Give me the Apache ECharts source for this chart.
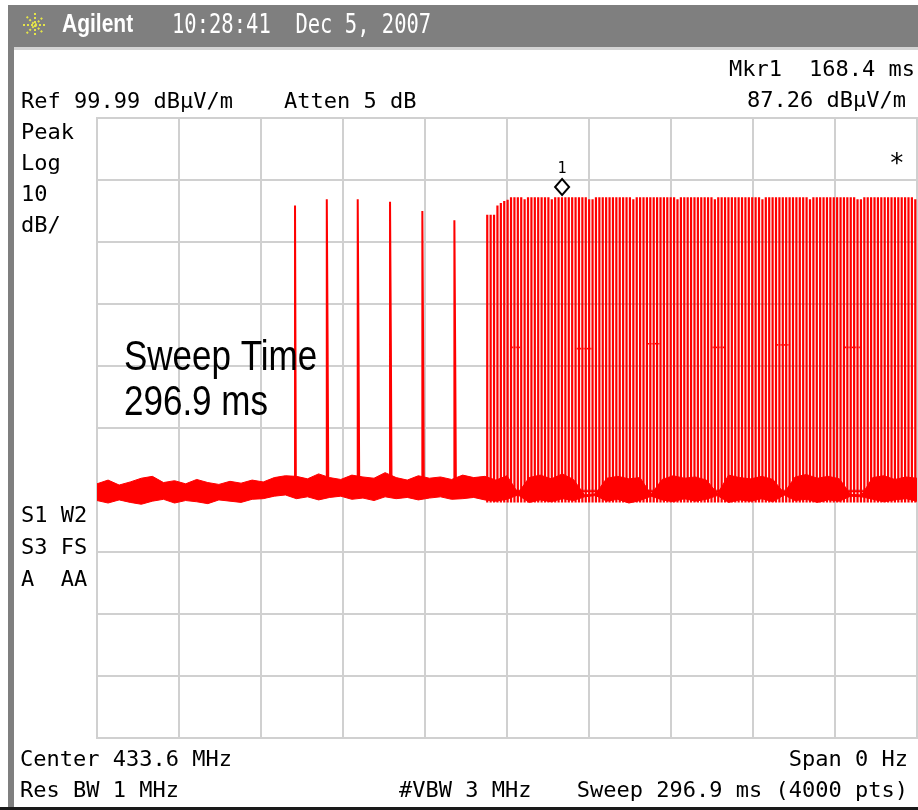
<!DOCTYPE html>
<html>
<head>
<meta charset="utf-8">
<script src="https://cdn.jsdelivr.net/npm/echarts@6/dist/echarts.min.js"></script>
<style>
  html, body { margin: 0; background: #fff; }
  #chart { width: 918px; height: 810px; }
</style>
</head>
<body>
<div id="chart"></div>
<script>
// sweep / scale
const sweepMs = 296.9;
const refLevel = 100;
const dbPerDiv = 10;

// six single bursts before the long train (ms, dB)
const burstTimes = [71.7, 83.2, 94.4, 106.1, 117.8, 129.4];
const burstPeaks = [85.9, 86.9, 86.9, 86.5, 85.0, 83.5];
const burstTails = [40.0, 63.5, 62.9, 63.5, 61.5, 61.0];
const burstFloor = 39.8;

// long pulse train: one char per pulse slot
const trainStart = 140.9;
const trainSlot = 1.23;
const trainPattern = 'aaabcde' +
  'HHHHhHHHHH' + 'HHhHHHHHHH' + 'HHHhhHHHHH' + 'HHHHHHhHHH' +
  'HHHHHHHHHh' + 'HHHHHHHHHH' + 'hHHHHHHHHH' + 'HHHHhHHHHH' +
  'HHHHHHHHhH' + 'HHHHHHHHHH' + 'HHhhHHHHHH' + 'HHHHHHHHHh';
const trainLevels = { a: 84.4, b: 85.9, c: 86.3, d: 86.6, e: 86.8, h: 86.9, H: 87.2 };
const trainFloor = 38.0;
// slot ranges where the gaps only fall to ~63 dB
const trainDips = [[7, 9], [26, 30], [47, 50], [66, 69], [85, 88], [105, 109]];
const dipLevels = [63.0, 62.8, 63.6, 63.0, 63.4, 63.0];

// noise floor envelope, evenly spaced over the sweep
const noiseHi = [41.0, 41.6, 40.8, 41.3, 41.9, 42.2, 41.2, 41.5, 41.0, 41.7, 41.2, 40.9, 41.4, 41.1, 41.6, 41.3,
  42.0, 42.3,
  42.2, 41.8, 42.6, 42.0, 41.7, 42.4, 42.1, 41.9, 42.8, 42.0, 41.6, 42.3, 41.9, 42.1, 41.7, 42.4, 42.0, 42.2,
  41.6, 42.3, 39.5, 42.0, 42.4, 41.8, 42.6, 41.7, 39.2, 39.4, 41.9, 42.2, 41.8, 42.0, 39.3, 41.7, 42.3, 41.9,
  42.1, 41.6, 39.4, 42.4, 42.0, 41.8, 42.2, 41.7, 39.5, 42.1, 42.5, 41.9, 42.2, 41.8, 39.3, 39.2, 42.0, 42.3,
  41.7, 42.1, 41.9];
const noiseLo = [38.3, 37.9, 38.4, 38.0, 37.7, 38.2, 38.5, 37.9, 38.3, 38.1, 37.8, 38.4, 38.2, 38.0, 38.5, 38.6,
  39.0, 39.2,
  38.6, 38.9, 38.4, 38.8, 39.0, 38.5, 38.7, 38.3, 38.9, 38.6, 38.8, 38.4, 38.7, 38.9, 38.5, 38.6, 38.8, 38.4,
  38.2, 38.5, 39.2, 38.0, 38.4, 38.1, 38.6, 38.3, 38.9, 39.1, 38.2, 38.5, 37.9, 38.3, 39.0, 38.4, 38.1, 38.6,
  38.2, 38.5, 39.1, 38.0, 38.4, 38.2, 38.6, 38.1, 39.2, 38.3, 38.5, 38.0, 38.4, 38.2, 39.0, 38.9, 38.5, 38.1,
  38.4, 38.6, 38.2];

const marker = [168.4, 87.26];

// ---- build series data ----
let trace = [[0, burstFloor]];
burstTimes.forEach((t, i) => {
  trace.push([t, burstFloor], [t, burstPeaks[i]], [t + 0.3, burstPeaks[i]],
    [t + 0.3, burstTails[i]], [t + 0.55, burstTails[i]], [t + 0.55, burstFloor]);
});
trace.push([sweepMs, burstFloor]);

// train: [time, peak, gap level]
const pulseW = 0.8;
const train = [];
for (let i = 0; i < trainPattern.length; i++) {
  let gap = trainFloor;
  trainDips.forEach((d, k) => { if (i >= d[0] && i <= d[1]) gap = dipLevels[k]; });
  train.push([trainStart + i * trainSlot, trainLevels[trainPattern[i]], gap]);
}

const noiseStep = sweepMs / (noiseHi.length - 1);
const noisePts = noiseHi.map((v, i) => [i * noiseStep, v]);

// ---- chrome ----
const mono = '"DejaVu Sans Mono", monospace';
const sans = '"Liberation Sans", Arial, sans-serif';
// y is the text baseline
function txt(s, x, y, o) {
  o = o || {};
  const sy = o.sy || 1;
  const off = o.off !== undefined ? o.off : 18;
  return {
    type: 'text', x: x, y: y - off * sy, z: 100,
    scaleY: sy,
    style: {
      text: s, x: 0, y: 0,
      font: o.font || ('22px ' + mono),
      fill: o.fill || '#000',
      textAlign: o.align || 'left', align: o.align || 'left',
      textVerticalAlign: 'top', verticalAlign: 'top'
    }
  };
}
function star(cx, cy, r) {
  const out = [];
  [[r, 0], [0, r], [r * 0.7, r * 0.7], [r * 0.7, -r * 0.7]].forEach(d => {
    out.push({
      type: 'line', z: 100,
      shape: { x1: cx - d[0], y1: cy - d[1], x2: cx + d[0], y2: cy + d[1] },
      style: { stroke: '#e4e44a', lineWidth: 2, lineDash: [2, 2] }
    });
  });
  return out;
}

const chrome = [
  { type: 'rect', z: 90, shape: { x: 8, y: 5, width: 910, height: 42 }, style: { fill: '#7f7f7f' } },
  { type: 'rect', z: 90, shape: { x: 8, y: 47, width: 6, height: 763 }, style: { fill: '#7f7f7f' } },
  { type: 'rect', z: 90, shape: { x: 14, y: 47, width: 904, height: 3 }, style: { fill: '#d4d4d4' } },
  { type: 'rect', z: 90, shape: { x: 0, y: 807, width: 918, height: 3 }, style: { fill: '#1a1a1a' } },
  ...star(35, 25, 12),
  txt('Agilent', 62, 35, { font: 'bold 21px ' + sans, fill: '#fff', sy: 1.2, off: 19 }),
  txt('10:28:41  Dec 5, 2007', 172, 35, { font: '20.5px ' + mono, fill: '#fff', sy: 1.33, off: 17 }),
  txt('Mkr1', 729, 77),
  txt('168.4 ms', 915, 77, { align: 'right' }),
  txt('Ref 99.99 dBµV/m', 21, 109),
  txt('Atten 5 dB', 284, 109),
  txt('87.26 dBµV/m', 906, 108, { align: 'right' }),
  txt('Peak', 21, 140),
  txt('Log', 21, 171),
  txt('10', 21, 202),
  txt('dB/', 21, 233),
  txt('*', 889, 173, { font: '26px ' + mono, off: 21 }),
  txt('S1 W2', 21, 523),
  txt('S3 FS', 21, 555),
  txt('A  AA', 21, 587),
  txt('Center 433.6 MHz', 20, 767),
  txt('Span 0 Hz', 908, 767, { align: 'right' }),
  txt('Res BW 1 MHz', 20, 798),
  txt('#VBW 3 MHz', 399, 798),
  txt('Sweep 296.9 ms (4000 pts)', 908, 798, { align: 'right' }),
  txt('Sweep Time', 124, 372, { font: '35px ' + sans, sy: 1.2, off: 29 }),
  txt('296.9 ms', 124, 417, { font: '35px ' + sans, sy: 1.2, off: 29 })
];

const chart = echarts.init(document.getElementById('chart'));
chart.setOption({
  animation: false,
  backgroundColor: '#fff',
  grid: { left: 97, top: 118, width: 820, height: 620, show: true, borderColor: '#d0d0d0', borderWidth: 2 },
  xAxis: {
    type: 'value', min: 0, max: sweepMs, interval: sweepMs / 10,
    axisLine: { show: false }, axisTick: { show: false }, axisLabel: { show: false },
    splitLine: { lineStyle: { color: '#d0d0d0', width: 2 } }
  },
  yAxis: {
    type: 'value', min: refLevel - 10 * dbPerDiv, max: refLevel, interval: dbPerDiv,
    axisLine: { show: false }, axisTick: { show: false }, axisLabel: { show: false },
    splitLine: { lineStyle: { color: '#d0d0d0', width: 2 } }
  },
  series: [
    {
      // noise floor band between the two envelopes
      type: 'custom', data: noisePts, clip: true,
      renderItem: function (params, api) {
        if (params.dataIndex !== 0) return null;
        const pts = [];
        noiseHi.forEach((v, i) => pts.push(api.coord([i * noiseStep, v])));
        for (let i = noiseLo.length - 1; i >= 0; i--) pts.push(api.coord([i * noiseStep, noiseLo[i]]));
        return { type: 'polygon', shape: { points: pts }, style: { fill: '#ff0000', stroke: '#ff0000', lineWidth: 1 } };
      }
    },
    {
      type: 'line', data: trace, symbol: 'none',
      lineStyle: { color: '#ff0000', width: 2 }
    },
    {
      // pulse train: each pulse a filled column, plus the raised gap step in the dips
      type: 'custom', data: train, clip: true,
      renderItem: function (params, api) {
        const t = api.value(0), peak = api.value(1), gap = api.value(2);
        const p0 = api.coord([t, peak]);
        const p1 = api.coord([t + pulseW, trainFloor]);
        const kids = [{
          type: 'rect',
          shape: { x: p0[0], y: p0[1], width: p1[0] - p0[0], height: p1[1] - p0[1] },
          style: { fill: '#ff0000' }
        }];
        if (gap > trainFloor) {
          const g0 = api.coord([t + pulseW, gap]);
          const g1 = api.coord([t + trainSlot, gap]);
          kids.push({ type: 'line', shape: { x1: g0[0], y1: g0[1], x2: g1[0], y2: g1[1] }, style: { stroke: '#ff0000', lineWidth: 1.6 } });
        }
        return { type: 'group', children: kids };
      },
      markPoint: {
        silent: true,
        data: [{
          coord: marker, symbol: 'diamond', symbolSize: [14, 16], symbolOffset: [0, -10],
          itemStyle: { color: '#fff', borderColor: '#000', borderWidth: 2 },
          label: { show: true, position: 'top', formatter: '1', color: '#000', fontSize: 15, fontFamily: 'DejaVu Sans Mono', distance: 1 }
        }]
      }
    }
  ],
  graphic: chrome
});
</script>
</body>
</html>
